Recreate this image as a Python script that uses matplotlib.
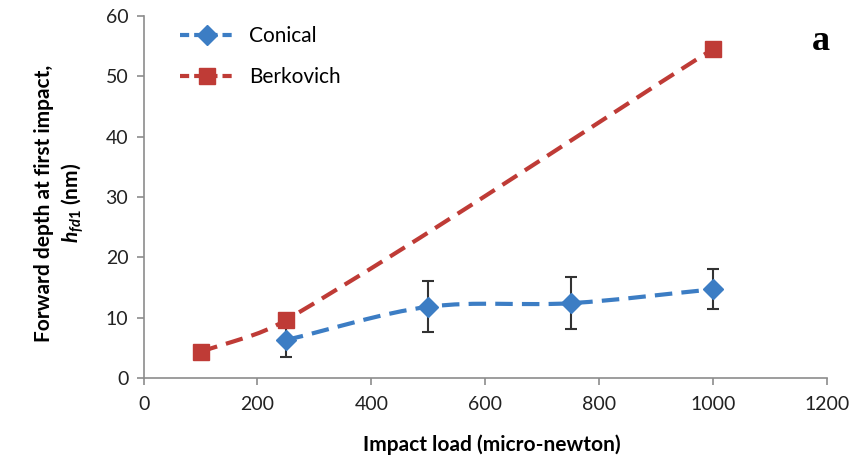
import matplotlib
matplotlib.use("Agg")
import matplotlib.pyplot as plt
from matplotlib.path import Path
from matplotlib.patches import PathPatch
from matplotlib.lines import Line2D
import numpy as np

plt.rcParams['font.family'] = ['Lato', 'DejaVu Sans']
plt.rcParams['mathtext.fontset'] = 'custom'
plt.rcParams['mathtext.it'] = 'Lato:italic:bold'
plt.rcParams['mathtext.rm'] = 'Lato:bold'

# data
conical_load = [250, 500, 750, 1000]
conical_depth = [6.3, 11.8, 12.4, 14.7]
conical_err = [2.8, 4.2, 4.3, 3.3]

berk_load = [100, 250, 1000]
berk_depth = [4.3, 9.6, 54.5]

blue = '#3C7DC4'
red = '#BF3B36'


# smooth line like the excel "smoothed line" option (cubic hermite as bezier)
def smooth_path(xs, ys):
    xs = np.asarray(xs, float)
    ys = np.asarray(ys, float)
    n = len(xs)
    m = np.zeros(n)
    m[0] = (ys[1] - ys[0]) / (xs[1] - xs[0])
    m[-1] = (ys[-1] - ys[-2]) / (xs[-1] - xs[-2])
    for i in range(1, n - 1):
        m[i] = (ys[i + 1] - ys[i - 1]) / (xs[i + 1] - xs[i - 1])
    verts = [(xs[0], ys[0])]
    codes = [Path.MOVETO]
    for i in range(n - 1):
        dx = xs[i + 1] - xs[i]
        verts += [(xs[i] + dx / 3, ys[i] + m[i] * dx / 3),
                  (xs[i + 1] - dx / 3, ys[i + 1] - m[i + 1] * dx / 3),
                  (xs[i + 1], ys[i + 1])]
        codes += [Path.CURVE4] * 3
    return Path(verts, codes)


fig = plt.figure(figsize=(8.55, 4.65), dpi=100)
ax = fig.add_axes([0.168, 0.187, 0.799, 0.779])

dash = (0, (4.2, 2.2))
for xs, ys, c in [(conical_load, conical_depth, blue), (berk_load, berk_depth, red)]:
    ax.add_patch(PathPatch(smooth_path(xs, ys), facecolor='none', edgecolor=c,
                           lw=3, linestyle=dash, capstyle='butt', zorder=2))

ax.errorbar(conical_load, conical_depth, yerr=conical_err, fmt='D', color=blue,
            ms=10, ecolor='#333333', elinewidth=1.5, capsize=4, capthick=1.5, zorder=3)
ax.plot(berk_load, berk_depth, 's', color=red, ms=12, zorder=3)

ax.set_xlim(0, 1200)
ax.set_ylim(0, 60)
ax.set_xticks(range(0, 1201, 200))
ax.set_yticks(range(0, 61, 10))

for s in ['top', 'right']:
    ax.spines[s].set_visible(False)
for s in ['left', 'bottom']:
    ax.spines[s].set_color('#8c8c8c')
    ax.spines[s].set_linewidth(1.2)
ax.tick_params(axis='both', colors='#8c8c8c', labelcolor='#222222', labelsize=14,
               length=5, width=1.2)
ax.tick_params(axis='x', pad=8)
ax.tick_params(axis='y', pad=6)

ax.set_xlabel('Impact load (micro-newton)', fontsize=15, fontweight='bold')
ax.xaxis.set_label_coords(0.51, -0.155)
ax.set_ylabel('Forward depth at first impact,\n$h_{fd1}$ (nm)', fontsize=15,
              fontweight='bold', linespacing=1.25)
ax.yaxis.set_label_coords(-0.084, 0.483)

handles = [Line2D([], [], color=blue, lw=3, linestyle=(0, (2.2, 1.2)), marker='D', ms=10),
           Line2D([], [], color=red, lw=3, linestyle=(0, (2.2, 1.2)), marker='s', ms=12)]
ax.legend(handles, ['Conical', 'Berkovich'], loc='upper left', bbox_to_anchor=(0.026, 1.023),
          frameon=False, fontsize=15, handlelength=2.6, labelspacing=1.0, handletextpad=0.7)

fig.text(0.96, 0.91, 'a', family='Liberation Serif', fontweight='bold', fontsize=26,
         ha='center', va='center')

fig.savefig('out.png', dpi=100)
